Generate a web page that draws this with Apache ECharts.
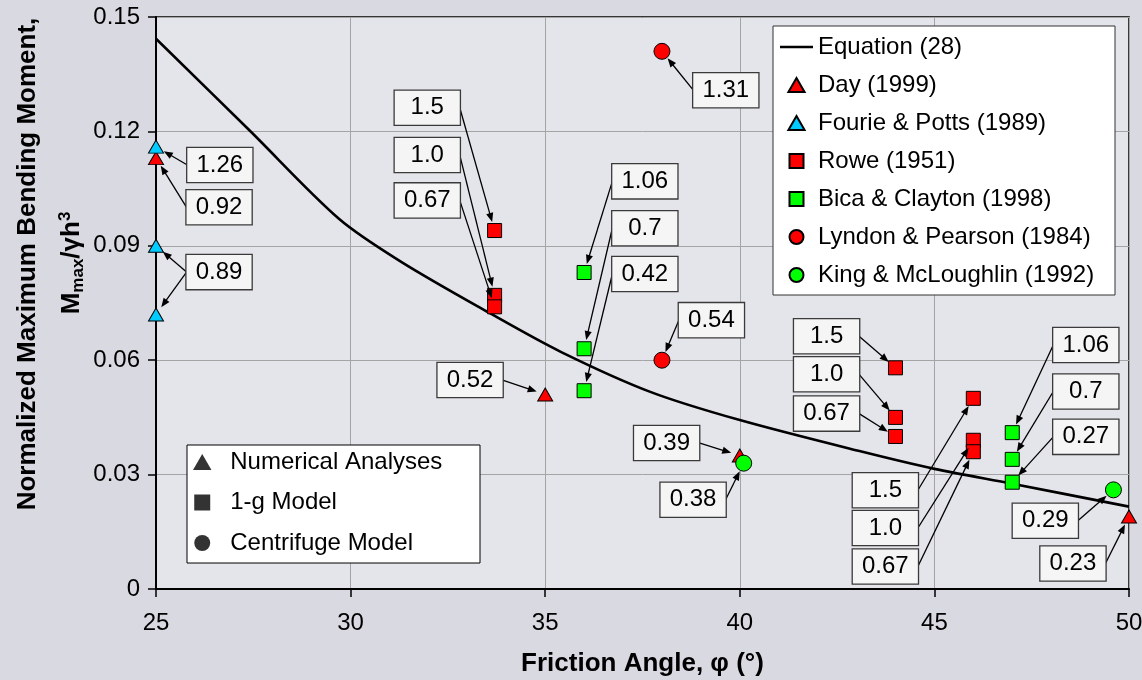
<!DOCTYPE html>
<html>
<head>
<meta charset="utf-8">
<script src="https://cdn.jsdelivr.net/npm/echarts@6/dist/echarts.min.js"></script>
<style>
html,body{margin:0;padding:0;background:#d9d9e2;}
#c{width:1142px;height:680px;}
</style>
</head>
<body>
<div id="c"></div>
<script>
// ---- data ----
const curveX = [25, 27.4, 29.7, 31.3, 33.6, 35.4, 37.7, 40.0, 43.1, 45.0, 47.0, 50.0];
const curveY = [0.1443, 0.1203, 0.0971, 0.0858, 0.0722, 0.0622, 0.0517, 0.0443, 0.0361, 0.0315, 0.0276, 0.0216];

const dayX = [25, 35, 40, 50];
const dayY = [0.113, 0.051, 0.035, 0.019];
const fourieX = [25, 25, 25];
const fourieY = [0.116, 0.090, 0.072];
const roweX = [33.7, 33.7, 33.7, 44, 44, 44, 46, 46, 46];
const roweY = [0.094, 0.077, 0.074, 0.058, 0.045, 0.040, 0.050, 0.039, 0.036];
const bicaX = [36, 36, 36, 47, 47, 47];
const bicaY = [0.083, 0.063, 0.052, 0.041, 0.034, 0.028];
const lyndonX = [38, 38];
const lyndonY = [0.141, 0.060];
const kingX = [40.1, 49.6];
const kingY = [0.033, 0.026];

const xTicks = [25, 30, 35, 40, 45, 50];
const yTicks = ['0', '0.03', '0.06', '0.09', '0.12', '0.15'];

// annotation labels (text, label centre in data units, arrow targets)
const annText = ['1.26','0.92','0.89','1.5','1.0','0.67','1.06','0.7','0.42','1.31','0.54','0.52','0.39','0.38','1.5','1.0','0.67','1.5','1.0','0.67','1.06','0.7','0.27','0.29','0.23'];
const annX = [26.64,26.62,26.62,31.97,31.97,31.97,37.56,37.56,37.56,39.64,39.27,33.07,38.12,38.80,42.23,42.23,42.23,43.74,43.74,43.74,48.89,48.89,48.89,47.85,48.56];
const annY = [0.1112,0.1001,0.0831,0.1262,0.1138,0.1019,0.1069,0.0946,0.0826,0.1308,0.0705,0.0548,0.0383,0.0234,0.0663,0.0563,0.0460,0.0259,0.0160,0.0059,0.0640,0.0518,0.0399,0.0179,0.0067];
const annTargets = [
  [[25,0.116]],[[25,0.113]],[[25,0.090],[25,0.072]],
  [[33.7,0.094]],[[33.7,0.077]],[[33.7,0.074]],
  [[36,0.083]],[[36,0.063]],[[36,0.052]],
  [[38,0.141]],[[38,0.060]],[[35,0.051]],[[40,0.035]],[[40.1,0.033]],
  [[44,0.058]],[[44,0.045]],[[44,0.040]],
  [[46,0.050]],[[46,0.039]],[[46,0.036]],
  [[47,0.041]],[[47,0.034]],[[47,0.028]],
  [[49.6,0.026]],[[50,0.019]]
];

const FONT = '"Liberation Sans", Arial, sans-serif';
const zip = (a, b) => a.map((v, i) => [v, b[i]]);

const chart = echarts.init(document.getElementById('c'), null, {renderer: 'canvas'});

function scatter(name, xs, ys, symbol, color, size) {
  return {
    name, type: 'scatter', data: zip(xs, ys), symbol, symbolSize: size, clip: false, z: 4, symbolKeepAspect: true,
    itemStyle: {color, borderColor: '#000', borderWidth: 1, opacity: 1}
  };
}

// legend icon shapes
const ICON_LINE = 'path://M0,0H33V2.6H0Z';
const ICON_TRI = 'path://M0,13L7.5,0L15,13Z';
const ICON_SQ = 'path://M0,0H13V13H0Z';

const BOX_W = 65, GAP = 9, AH = 9, AW = 3.6;

const option = {
  backgroundColor: '#d9d9e2',
  animation: false,
  grid: {left: 156, right: 13, top: 17, bottom: 91, show: true, backgroundColor: 'rgba(255,255,255,0.3)', borderColor: '#000', borderWidth: 1.5, outerBoundsMode: 'none'},
  xAxis: {
    type: 'value', min: 25, max: 50, interval: 5,
    name: 'Friction Angle, \u03c6 (\u00b0)', nameLocation: 'middle', nameGap: 62,
    nameTextStyle: {fontFamily: FONT, fontWeight: 'bold', fontSize: 26, color: '#000'},
    axisLine: {show: true, onZero: false, lineStyle: {color: '#000', width: 2}},
    axisTick: {show: true, inside: false, length: 8, lineStyle: {color: '#000', width: 1.5}},
    axisLabel: {fontFamily: FONT, fontSize: 24, color: '#000', margin: 22,
      formatter: v => xTicks.includes(v) ? String(v) : ''},
    splitLine: {show: true, lineStyle: {color: '#a4a4a4', width: 1}}
  },
  yAxis: {
    type: 'value', min: 0, max: 0.15, interval: 0.03,
    axisLine: {show: true, onZero: false, lineStyle: {color: '#000', width: 2}},
    axisTick: {show: true, inside: false, length: 8, lineStyle: {color: '#000', width: 1.5}},
    axisLabel: {fontFamily: FONT, fontSize: 24, color: '#000', margin: 16,
      formatter: v => yTicks[Math.round(v / 0.03)]},
    splitLine: {show: true, lineStyle: {color: '#a4a4a4', width: 1}}
  },
  legend: [
    {
      left: 780, top: 35, orient: 'vertical', padding: 0, itemGap: 14, itemWidth: 33, itemHeight: 14,
      selectedMode: false, z: 6, symbolKeepAspect: true,
      textStyle: {fontFamily: FONT, fontSize: 24, color: '#000'},
      data: [
        {name: 'Equation (28)', icon: ICON_LINE},
        {name: 'Day (1999)', icon: ICON_TRI},
        {name: 'Fourie & Potts (1989)', icon: ICON_TRI},
        {name: 'Rowe (1951)', icon: ICON_SQ},
        {name: 'Bica & Clayton (1998)', icon: ICON_SQ},
        {name: 'Lyndon & Pearson (1984)', icon: 'circle'},
        {name: 'King & McLoughlin (1992)', icon: 'circle'}
      ]
    },
    {
      left: 193, top: 450, orient: 'vertical', padding: 0, itemGap: 16.5, itemWidth: 46, itemHeight: 16,
      selectedMode: false, z: 6, symbolKeepAspect: true,
      textStyle: {fontFamily: FONT, fontSize: 24, color: '#000'},
      data: [
        {name: 'Numerical Analyses', icon: ICON_TRI},
        {name: '1-g Model', icon: ICON_SQ},
        {name: 'Centrifuge Model', icon: 'circle'}
      ]
    }
  ],
  graphic: [
    {type: 'rect', z: 3, shape: {x: 773, y: 26, width: 342, height: 269}, style: {fill: '#fff', stroke: '#333', lineWidth: 1}},
    {type: 'rect', z: 3, shape: {x: 187, y: 445, width: 293, height: 118}, style: {fill: '#fff', stroke: '#000', lineWidth: 1}},
    {type: 'text', z: 3, x: 28, y: 264, rotation: Math.PI / 2,
      style: {text: 'Normalized Maximum Bending Moment,', font: 'bold 26px ' + FONT, fill: '#000', align: 'center', verticalAlign: 'middle'}},
    {type: 'text', z: 3, x: 72, y: 263, rotation: Math.PI / 2,
      style: {
        text: '{m|M}{s|max}{m|/\u03b3h}{p|3}', align: 'center', verticalAlign: 'middle', fill: '#000',
        rich: {
          m: {fontFamily: FONT, fontWeight: 'bold', fontSize: 26, lineHeight: 30, verticalAlign: 'middle', fill: '#000'},
          s: {fontFamily: FONT, fontWeight: 'bold', fontSize: 17, lineHeight: 17, verticalAlign: 'bottom', fill: '#000'},
          p: {fontFamily: FONT, fontWeight: 'bold', fontSize: 17, lineHeight: 17, verticalAlign: 'top', fill: '#000'}
        }
      }}
  ],
  series: [
    {name: 'Equation (28)', type: 'line', data: zip(curveX, curveY), symbol: 'none', smooth: 0.3,
      lineStyle: {color: '#000', width: 2.6}, itemStyle: {color: '#000'}, z: 3},
    scatter('Day (1999)', dayX, dayY, 'triangle', '#ff0000', [15, 13]),
    scatter('Fourie & Potts (1989)', fourieX, fourieY, 'triangle', '#00ccff', [15, 13]),
    scatter('Rowe (1951)', roweX, roweY, 'rect', '#ff0000', 14),
    scatter('Bica & Clayton (1998)', bicaX, bicaY, 'rect', '#00ff00', 14),
    scatter('Lyndon & Pearson (1984)', lyndonX, lyndonY, 'circle', '#ff0000', 16),
    scatter('King & McLoughlin (1992)', kingX, kingY, 'circle', '#00ff00', 16),
    {name: 'Numerical Analyses', type: 'scatter', data: [], symbol: 'triangle', itemStyle: {color: '#000'}},
    {name: '1-g Model', type: 'scatter', data: [], symbol: 'rect', itemStyle: {color: '#000'}},
    {name: 'Centrifuge Model', type: 'scatter', data: [], symbol: 'circle', itemStyle: {color: '#000'}},
    {
      name: 'annotations', type: 'custom', coordinateSystem: 'cartesian2d', clip: false, z: 5, silent: true,
      data: annX.map((x, i) => [x, annY[i], i]),
      encode: {x: 0, y: 1},
      renderItem: function (params, api) {
        const i = api.value(2);
        const c = api.coord([api.value(0), api.value(1)]);
        const children = [];
        annTargets[i].forEach(t => {
          const p = api.coord(t);
          const sx = p[0] < c[0] ? c[0] - BOX_W / 2 : c[0] + BOX_W / 2;
          const sy = c[1];
          const dx = p[0] - sx, dy = p[1] - sy;
          const L = Math.hypot(dx, dy) || 1;
          const ux = dx / L, uy = dy / L;
          const tip = [p[0] - ux * GAP, p[1] - uy * GAP];
          const base = [tip[0] - ux * AH, tip[1] - uy * AH];
          children.push({type: 'line', shape: {x1: sx, y1: sy, x2: base[0] + ux * 2, y2: base[1] + uy * 2},
            style: {stroke: '#000', lineWidth: 1.3}});
          children.push({type: 'polygon', shape: {points: [tip, [base[0] - uy * AW, base[1] + ux * AW], [base[0] + uy * AW, base[1] - ux * AW]]},
            style: {fill: '#000'}});
        });
        children.push({type: 'text', x: c[0], y: c[1], z2: 10,
          style: {text: annText[i], font: '24px ' + FONT, fill: '#000', align: 'center', verticalAlign: 'middle',
            width: BOX_W - 16, padding: [5, 8, 4, 8], lineHeight: 25,
            backgroundColor: '#f5f5f5', borderColor: '#3a3a3a', borderWidth: 1.3}});
        return {type: 'group', children};
      }
    }
  ]
};
chart.setOption(option);
</script>
</body>
</html>
